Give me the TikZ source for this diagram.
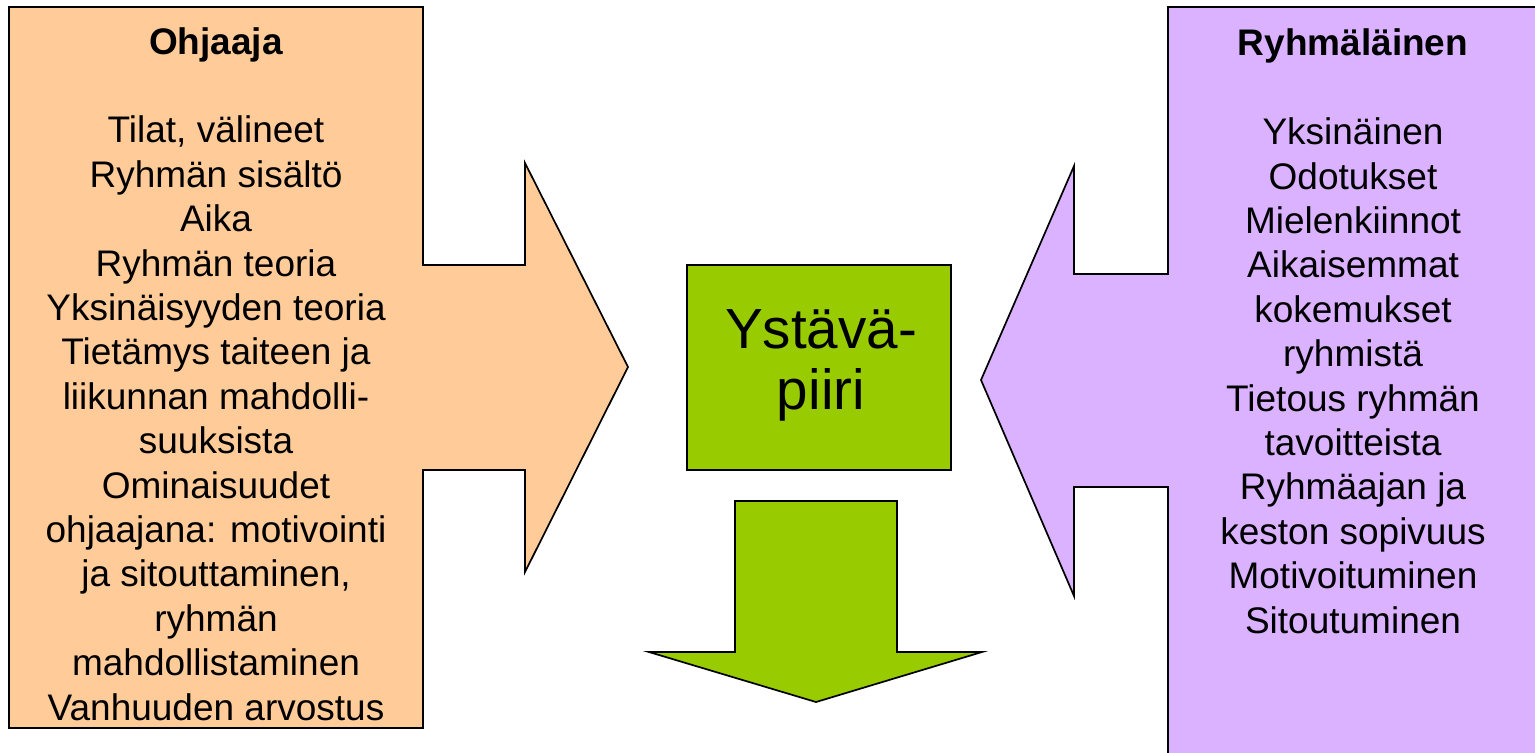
\documentclass[tikz,border=0pt]{standalone}
\usepackage{fontspec}
\setmainfont{Liberation Sans}
\definecolor{peach}{HTML}{FFCC99}
\definecolor{lavender}{HTML}{DAB2FF}
\definecolor{leaf}{HTML}{99CC00}
\begin{document}
\begin{tikzpicture}[x=0.5pt,y=-0.5pt,
  shapeline/.style={draw=black,line width=0.85pt,line join=miter},
  listtext/.style={align=center,inner sep=0pt,anchor=base,font=\fontsize{18.5}{22.2}\selectfont},
  bigtext/.style={align=center,inner sep=0pt,anchor=base,font=\fontsize{28.3}{30.5}\selectfont}]
\useasboundingbox (0,0) rectangle (1535,752);
\clip (0,0) rectangle (1535,752);
% left arrow (Ohjaaja)
\path[shapeline,fill=peach] (9,7) -- (423,7) -- (423,265) -- (525,265) -- (525,163) -- (628,367)
  -- (525,572) -- (525,470) -- (423,470) -- (423,728) -- (9,728) -- cycle;
% right arrow (Ryhmäläinen)
\path[shapeline,fill=lavender] (1168,7) -- (1545,7) -- (1545,760) -- (1168,760) -- (1168,487)
  -- (1074,487) -- (1074,596) -- (981,380) -- (1074,166) -- (1074,274) -- (1168,274) -- cycle;
% centre box
\path[shapeline,fill=leaf] (687,265) rectangle (951,470);
% down arrow
\path[shapeline,fill=leaf] (735,501) -- (897,501) -- (897,652) -- (982,652) -- (816,702)
  -- (649,652) -- (735,652) -- cycle;
% texts (anchor base = baseline of last line)
\node[listtext] (ohjaaja) at (216,720) {\textbf{Ohjaaja}\\[22.2pt]
Tilat, välineet\\Ryhmän sisältö\\Aika\\Ryhmän teoria\\Yksinäisyyden teoria\\
Tietämys taiteen ja\\liikunnan mahdolli-\\suuksista\\Ominaisuudet\\
ohjaajana: motivointi\\ja sitouttaminen,\\ryhmän\\mahdollistaminen\\Vanhuuden arvostus};
\node[listtext] (ryhmalainen) at (1353,633) {\textbf{Ryhmäläinen}\\[22.2pt]
Yksinäinen\\Odotukset\\Mielenkiinnot\\Aikaisemmat\\kokemukset\\ryhmistä\\
Tietous ryhmän\\tavoitteista\\Ryhmäajan ja\\keston sopivuus\\Motivoituminen\\Sitoutuminen};
\node[bigtext] (ystava) at (821,409) {Ystävä-\\piiri};
\end{tikzpicture}
\end{document}
